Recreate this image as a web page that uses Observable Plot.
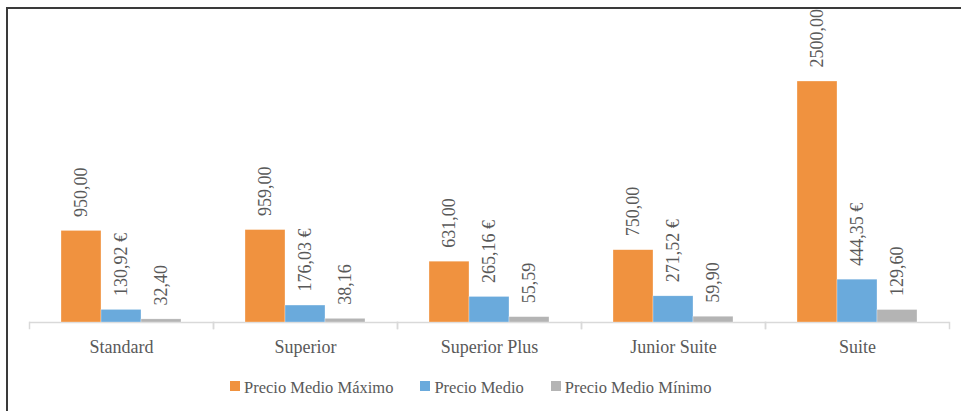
<!DOCTYPE html>
<html>
<head>
<meta charset="utf-8">
<script src="https://cdn.jsdelivr.net/npm/d3@7"></script>
<script src="https://cdn.jsdelivr.net/npm/@observablehq/plot@0.6"></script>
<style>
  html, body { margin: 0; padding: 0; background: #fff; }
  body { width: 961px; height: 411px; position: relative; overflow: hidden; }
  #chart svg, #chart svg *, #legend, #legend * { font-family: "Liberation Serif", "Times New Roman", serif !important; }
  #frame { position: absolute; left: 6px; top: 7px; width: 1200px; height: 600px; border-left: 2px solid #3a3a3a; border-top: 2px solid #3a3a3a; }
  #chart { position: absolute; left: 0; top: 0; }
  #legend { position: absolute; left: 230px; top: 378px; display: flex; align-items: center; font-size: 16.5px; color: #595959; line-height: 20px; white-space: nowrap; }
  .item { display: flex; align-items: center; margin-right: 27px; }
  .sw { width: 10px; height: 10px; margin-right: 4px; position: relative; top: -2px; }
</style>
</head>
<body>
<div id="frame"></div>
<div id="chart"></div>
<div id="legend"></div>
<script>
const categories = ["Standard", "Superior", "Superior Plus", "Junior Suite", "Suite"];
const seriesNames = ["Precio Medio Máximo", "Precio Medio", "Precio Medio Mínimo"];
const maxValues = [950.00, 959.00, 631.00, 750.00, 2500.00];
const avgValues = [130.92, 176.03, 265.16, 271.52, 444.35];
const minValues = [32.40, 38.16, 55.59, 59.90, 129.60];
const colors = ["#F0923F", "#6AAADC", "#B4B4B4"];

const seriesValues = [maxValues, avgValues, minValues];
const data = [];
categories.forEach((c, i) => {
  seriesNames.forEach((s, j) => {
    const v = seriesValues[j][i];
    const txt = v.toFixed(2).replace(".", ",") + (j === 1 ? " €" : "");
    data.push({category: c, series: s, value: v, label: txt});
  });
});

const W = 961, H = 365;
const mTop = 81, mBottom = 43;
const plotH = H - mTop - mBottom;

const chart = Plot.plot({
  width: W,
  height: H,
  marginTop: mTop,
  marginBottom: mBottom,
  marginLeft: 29,
  marginRight: 12,
  style: {fontFamily: '"Liberation Serif", "Times New Roman", serif', color: "#595959", background: "transparent"},
  fx: {domain: categories, padding: 0, label: null},
  x: {domain: seriesNames, paddingInner: 0, paddingOuter: 0.744, axis: null},
  y: {domain: [0, 2500], axis: null},
  color: {domain: seriesNames, range: colors},
  marks: [
    Plot.axisFx({anchor: "bottom", tickSize: 0, tickPadding: 18, fontSize: 18, fill: "#595959", label: null}),
    Plot.ruleY([0], {stroke: "#d9d9d9", strokeWidth: 1.5}),
    Plot.frame({anchor: "left", stroke: "#d9d9d9", strokeWidth: 1.5, insetTop: plotH, insetBottom: -6}),
    Plot.frame({anchor: "right", stroke: "#d9d9d9", strokeWidth: 1.5, insetTop: plotH, insetBottom: -6}),
    Plot.barY(data, {fx: "category", x: "series", y: "value", fill: "series", stroke: "#fff", strokeWidth: 0.5, strokeOpacity: 0.6}),
    Plot.text(data, {fx: "category", x: "series", y: "value", text: "label", rotate: -90, textAnchor: "start", lineAnchor: "middle", dy: -14, fontSize: 18, fill: "#595959"})
  ]
});
document.getElementById("chart").appendChild(chart);

const legend = document.getElementById("legend");
seriesNames.forEach((s, j) => {
  const it = document.createElement("div");
  it.className = "item";
  const sw = document.createElement("span");
  sw.className = "sw";
  sw.style.background = colors[j];
  const t = document.createElement("span");
  t.textContent = s;
  it.appendChild(sw);
  it.appendChild(t);
  legend.appendChild(it);
});
</script>
</body>
</html>
